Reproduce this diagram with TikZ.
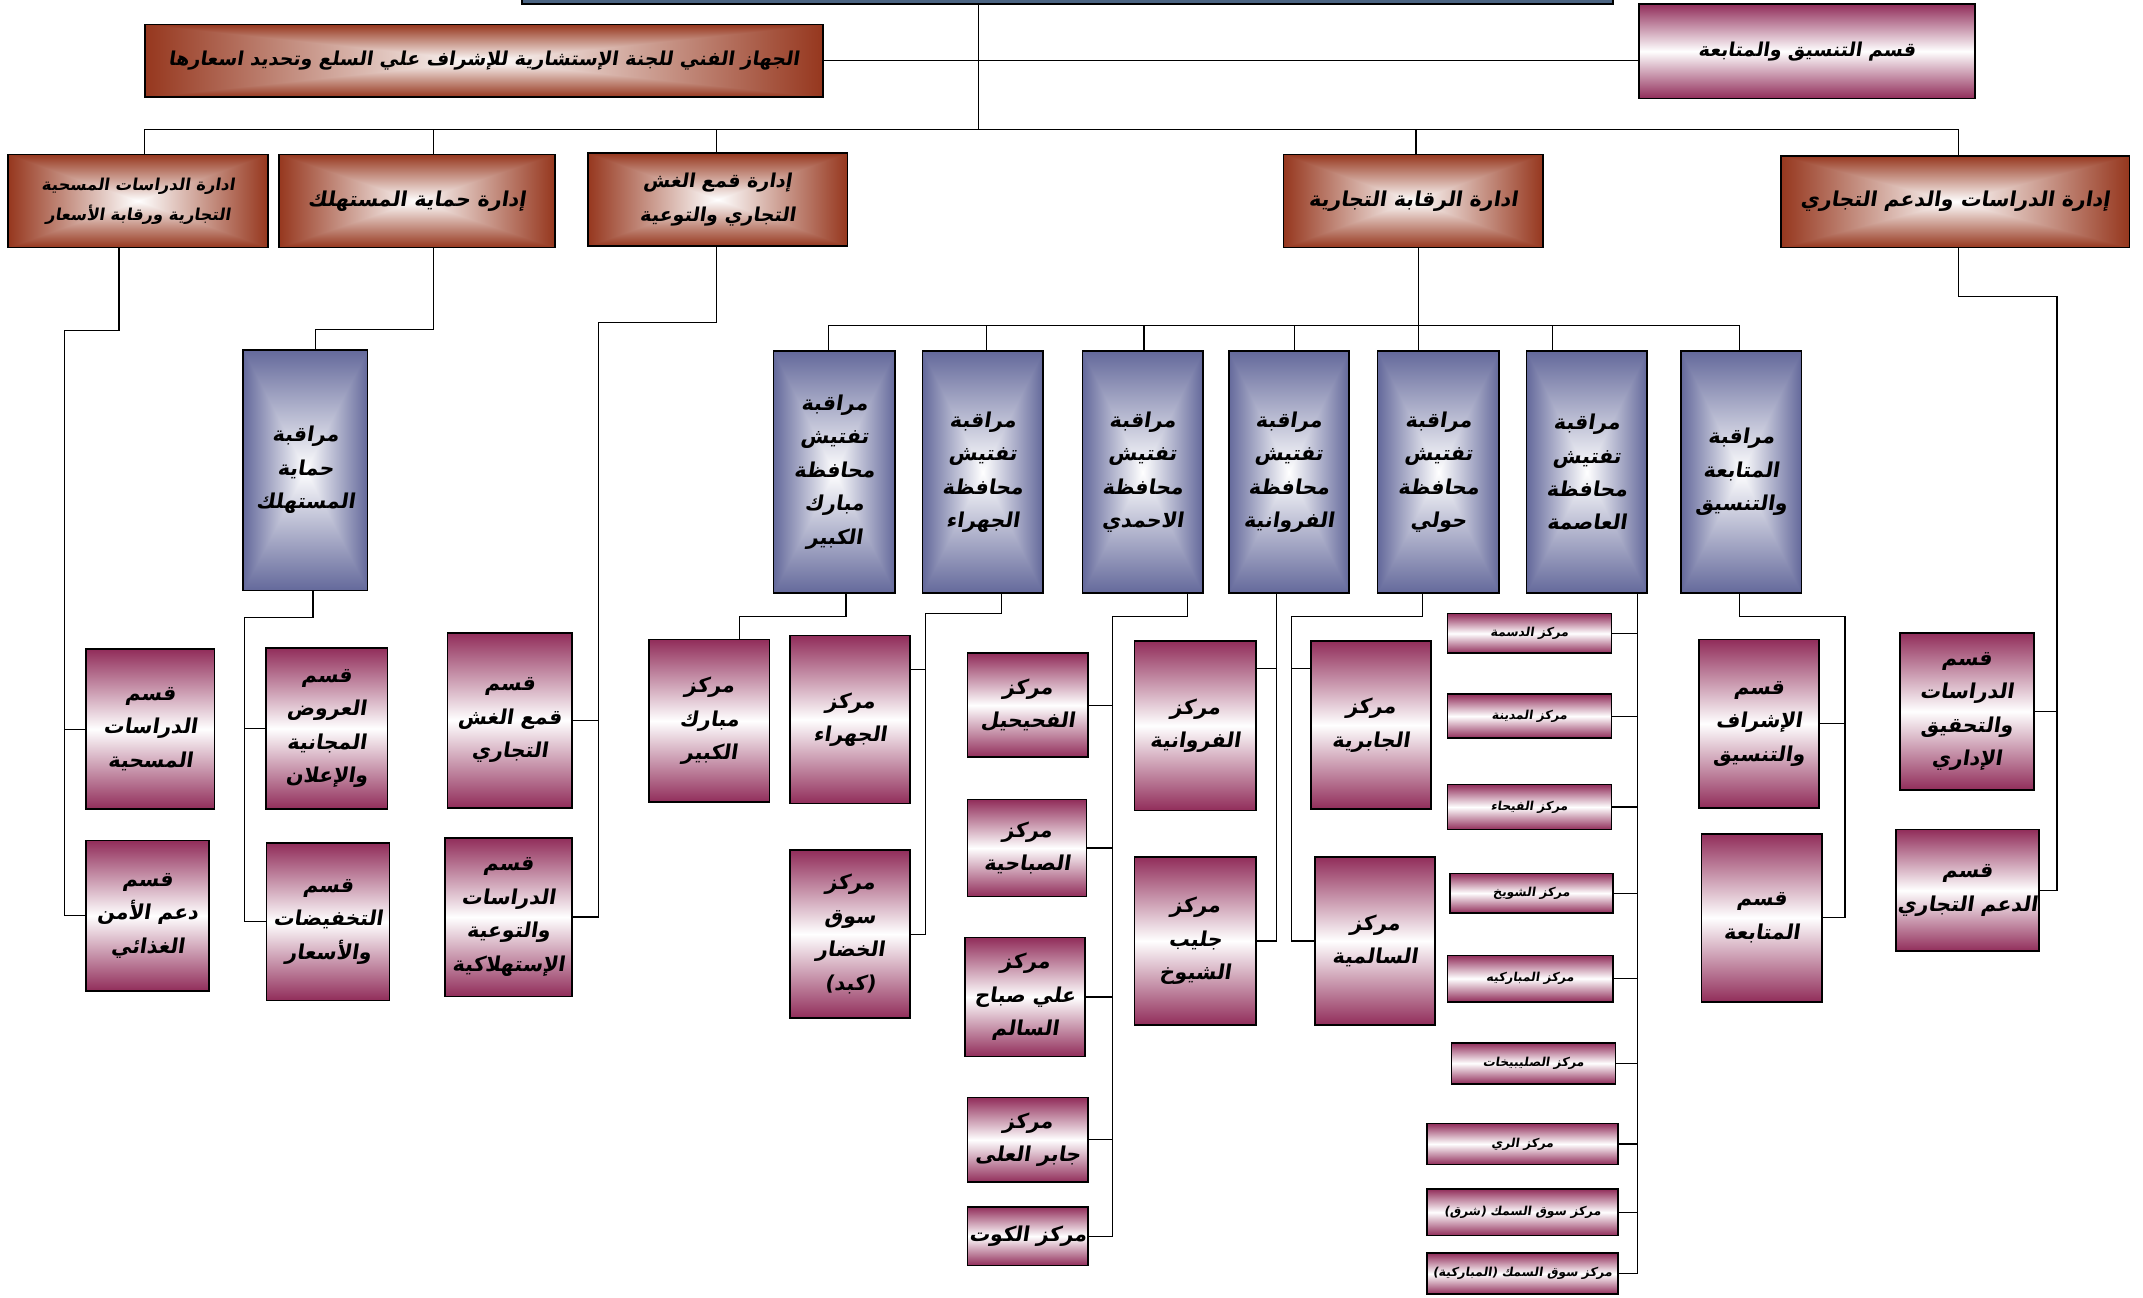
\documentclass[tikz,border=0pt]{standalone}
\usepackage{fontspec}
\newfontfamily\arabicfont[Script=Arabic,FakeSlant=0.15]{DejaVu Sans Bold}
\TeXXeTstate=1
\newcommand{\artxt}[1]{\beginR#1\endR}
\definecolor{plum}{RGB}{145,45,90}
\definecolor{steel}{RGB}{75,100,130}

\pgfdeclarefunctionalshading{rustshade}{\pgfpointorigin}{\pgfpoint{100bp}{100bp}}{}{
  50 sub abs 25 div exch 50 sub abs 25 div
  2 copy lt {exch} if pop
  dup 1 gt {pop 1} if
  dup 0.412 mul 1 exch sub
  exch dup 0.784 mul 1 exch sub
  exch 0.882 mul 1 exch sub
}
\pgfdeclarefunctionalshading{slateshade}{\pgfpointorigin}{\pgfpoint{100bp}{100bp}}{}{
  50 sub abs 25 div exch 50 sub abs 25 div
  2 copy lt {exch} if pop
  dup 1 gt {pop 1} if
  dup 0.608 mul 1 exch sub
  exch dup 0.588 mul 1 exch sub
  exch 0.392 mul 1 exch sub
}

\tikzset{
    link/.style={line width=0.9pt},
    boxsize/.style 2 args={minimum width=#1, minimum height=#2},
    rustbox/.style={draw, line width=1.2pt, shade, shading=rustshade, inner sep=1pt, align=center,
      font=\arabicfont\fontsize{15}{25}\selectfont},
    slatebox/.style={draw, line width=1.2pt, shade, shading=slateshade, inner sep=1pt, align=center,
      font=\arabicfont\fontsize{15}{24.5}\selectfont},
    plumbox/.style={draw, line width=1.2pt, top color=plum, bottom color=plum, middle color=white,
      inner sep=1pt, align=center, font=\arabicfont\fontsize{15}{24.5}\selectfont},
    centrebox/.style={plumbox, font=\arabicfont\fontsize{9}{11}\selectfont}
}

\begin{document}
\begin{tikzpicture}[x=1pt,y=-1pt]
  \useasboundingbox (0,0) rectangle (1568,949);

  % top level
  \node[draw, line width=1.2pt, fill=steel, boxsize={798}{23}] (top) at (781,-8.5) {};
  \node[rustbox, boxsize={496}{53}, font=\arabicfont\fontsize{14}{24}\selectfont] (tech) at (354,44.5)
    {\artxt{الجهاز الفني للجنة الإستشارية للإشراف علي السلع وتحديد اسعارها}};
  \node[plumbox, boxsize={246}{69}, font=\arabicfont\fontsize{14}{24}\selectfont] (coord) at (1322,37.5)
    {\artxt{قسم التنسيق والمتابعة}};

  % departments
  \node[rustbox, boxsize={190}{68}, font=\arabicfont\fontsize{12}{22}\selectfont] (survey) at (101,147)
    {\artxt{ادارة الدراسات المسحية}\\\artxt{التجارية ورقابة الأسعار}};
  \node[rustbox, boxsize={202}{68}] (protect) at (305,147) {\artxt{إدارة حماية المستهلك}};
  \node[rustbox, boxsize={190}{68}, font=\arabicfont\fontsize{14}{25}\selectfont] (fraud) at (525,146)
    {\artxt{إدارة قمع الغش}\\\artxt{التجاري والتوعية}};
  \node[rustbox, boxsize={190}{68}] (control) at (1034,147) {\artxt{ادارة الرقابة التجارية}};
  \node[rustbox, boxsize={255}{67}] (support) at (1430.5,147.5) {\artxt{إدارة الدراسات والدعم التجاري}};

  % controls
  \node[slatebox, boxsize={91}{176}] (cprotect) at (223.5,344)
    {\artxt{مراقبة}\\\artxt{حماية}\\\artxt{المستهلك}};
  \node[slatebox, boxsize={89}{177}] (mubarak) at (610.5,345.5)
    {\artxt{مراقبة}\\\artxt{تفتيش}\\\artxt{محافظة}\\\artxt{مبارك}\\\artxt{الكبير}};
  \node[slatebox, boxsize={88}{177}] (jahra) at (719,345.5)
    {\artxt{مراقبة}\\\artxt{تفتيش}\\\artxt{محافظة}\\\artxt{الجهراء}};
  \node[slatebox, boxsize={88}{177}] (ahmadi) at (836,345.5)
    {\artxt{مراقبة}\\\artxt{تفتيش}\\\artxt{محافظة}\\\artxt{الاحمدي}};
  \node[slatebox, boxsize={88}{177}] (farwaniya) at (943,345.5)
    {\artxt{مراقبة}\\\artxt{تفتيش}\\\artxt{محافظة}\\\artxt{الفروانية}};
  \node[slatebox, boxsize={89}{177}] (hawalli) at (1052.5,345.5)
    {\artxt{مراقبة}\\\artxt{تفتيش}\\\artxt{محافظة}\\\artxt{حولي}};
  \node[slatebox, boxsize={88}{177}] (capital) at (1161,345.5)
    {\artxt{مراقبة}\\\artxt{تفتيش}\\\artxt{محافظة}\\\artxt{العاصمة}};
  \node[slatebox, boxsize={88}{177}] (follow) at (1274,345.5)
    {\artxt{مراقبة}\\\artxt{المتابعة}\\\artxt{والتنسيق}};

  % sections
  \node[plumbox, boxsize={94}{117}] (ssurvey) at (110,533.5)
    {\artxt{قسم}\\\artxt{الدراسات}\\\artxt{المسحية}};
  \node[plumbox, boxsize={90}{110}] (sfood) at (108,670)
    {\artxt{قسم}\\\artxt{دعم الأمن}\\\artxt{الغذائي}};
  \node[plumbox, boxsize={89}{118}] (soffers) at (239,533)
    {\artxt{قسم}\\\artxt{العروض}\\\artxt{المجانية}\\\artxt{والإعلان}};
  \node[plumbox, boxsize={90}{115}] (sdiscount) at (240,674.5)
    {\artxt{قسم}\\\artxt{التخفيضات}\\\artxt{والأسعار}};
  \node[plumbox, boxsize={91}{128}] (sfraud) at (373,527)
    {\artxt{قسم}\\\artxt{قمع الغش}\\\artxt{التجاري}};
  \node[plumbox, boxsize={93}{116}] (saware) at (372,671)
    {\artxt{قسم}\\\artxt{الدراسات}\\\artxt{والتوعية}\\\artxt{الإستهلاكية}};

  % centres
  \node[plumbox, boxsize={88}{119}] (cmubarak) at (519,527.5)
    {\artxt{مركز}\\\artxt{مبارك}\\\artxt{الكبير}};
  \node[plumbox, boxsize={88}{123}] (cjahra) at (622,526.5)
    {\artxt{مركز}\\\artxt{الجهراء}};
  \node[plumbox, boxsize={88}{123}] (cveg) at (622,683.5)
    {\artxt{مركز}\\\artxt{سوق}\\\artxt{الخضار}\\\artxt{(كبد)}};
  \node[plumbox, boxsize={88}{76}] (cfahahil) at (752,516)
    {\artxt{مركز}\\\artxt{الفحيحيل}};
  \node[plumbox, boxsize={87}{71}] (csabahiya) at (751.5,620.5)
    {\artxt{مركز}\\\artxt{الصباحية}};
  \node[plumbox, boxsize={88}{87}] (csalem) at (750,729.5)
    {\artxt{مركز}\\\artxt{علي صباح}\\\artxt{السالم}};
  \node[plumbox, boxsize={88}{62}] (cjaber) at (752,834)
    {\artxt{مركز}\\\artxt{جابر العلى}};
  \node[plumbox, boxsize={88}{43}] (ckout) at (752,904.5) {\artxt{مركز الكوت}};
  \node[plumbox, boxsize={89}{124}] (cfarwaniya) at (874.5,531)
    {\artxt{مركز}\\\artxt{الفروانية}};
  \node[plumbox, boxsize={89}{123}] (cjleeb) at (874.5,688.5)
    {\artxt{مركز}\\\artxt{جليب}\\\artxt{الشيوخ}};
  \node[plumbox, boxsize={88}{123}] (cjabriya) at (1003,530.5)
    {\artxt{مركز}\\\artxt{الجابرية}};
  \node[plumbox, boxsize={88}{123}] (csalmiya) at (1006,688.5)
    {\artxt{مركز}\\\artxt{السالمية}};

  \node[centrebox, boxsize={120}{29}] (cdasma) at (1119,463.5) {\artxt{مركز الدسمة}};
  \node[centrebox, boxsize={120}{32}] (cmadina) at (1119,524) {\artxt{مركز المدينة}};
  \node[centrebox, boxsize={120}{33}] (cfayha) at (1119,590.5) {\artxt{مركز الفيحاء}};
  \node[centrebox, boxsize={119}{29}] (cshuwaikh) at (1120.5,653.5) {\artxt{مركز الشويخ}};
  \node[centrebox, boxsize={121}{34}] (cmubarakiya) at (1119.5,716) {\artxt{مركز المباركيه}};
  \node[centrebox, boxsize={120}{30}] (csulaibikhat) at (1122,778) {\artxt{مركز الصليبيخات}};
  \node[centrebox, boxsize={140}{30}] (crai) at (1114,837) {\artxt{مركز الري}};
  \node[centrebox, boxsize={140}{34}] (cfisheast) at (1114,887) {\artxt{مركز سوق السمك (شرق)}};
  \node[centrebox, boxsize={140}{30}] (cfishmub) at (1114,932) {\artxt{مركز سوق السمك (المباركية)}};

  \node[plumbox, boxsize={88}{123}] (ssupervise) at (1287,529.5)
    {\artxt{قسم}\\\artxt{الإشراف}\\\artxt{والتنسيق}};
  \node[plumbox, boxsize={88}{123}] (sfollow) at (1289,671.5)
    {\artxt{قسم}\\\artxt{المتابعة}};
  \node[plumbox, boxsize={98}{115}] (sinquiry) at (1439,520.5)
    {\artxt{قسم}\\\artxt{الدراسات}\\\artxt{والتحقيق}\\\artxt{الإداري}};
  \node[plumbox, boxsize={103}{89}] (strade) at (1439.5,651.5)
    {\artxt{قسم}\\\artxt{الدعم التجاري}};

  % connectors
  \draw[link] (top.south -| 716,0) -- (716,95);
  \draw[link] (tech.east) -- (coord.west |- tech.east);
  \draw[link] (survey.north -| 106,0) -- (106,95) -- (1433,95) -- (support.north -| 1433,0);
  \foreach \d/\x in {protect/317, fraud/524, control/1036}
    \draw[link] (\x,95) -- (\d.north -| \x,0);

  \draw[link] (survey.south -| 87,0) -- (87,242) -- (47,242) |- (sfood.west);
  \draw[link] (47,0 |- ssurvey.west) -- (ssurvey.west);

  \draw[link] (protect.south -| 317,0) -- (317,241) -| (cprotect.north -| 231,0);
  \draw[link] (cprotect.south -| 229,0) -- (229,452) -- (179,452) |- (sdiscount.west);
  \draw[link] (179,0 |- soffers.west) -- (soffers.west);

  \draw[link] (fraud.south -| 524,0) -- (524,236) -- (438,236) |- (saware.east);
  \draw[link] (438,0 |- sfraud.east) -- (sfraud.east);

  \draw[link] (control.south -| 1038,0) -- (1038,238);
  \draw[link] (606,238) -- (1273,238);
  \foreach \b/\x in {mubarak/606, jahra/722, ahmadi/837, farwaniya/947, hawalli/1038, capital/1136, follow/1273}
    \draw[link] (\x,238) -- (\b.north -| \x,0);

  \draw[link] (mubarak.south -| 619,0) -- (619,451) -| (cmubarak.north -| 541,0);

  \draw[link] (jahra.south -| 733,0) -- (733,449) -- (677,449) |- (cveg.east);
  \draw[link] (677,490) -- (cjahra.east |- 0,490);

  \draw[link] (ahmadi.south -| 869,0) -- (869,451) -- (814,451) |- (ckout.east);
  \foreach \c in {cfahahil, csabahiya, csalem, cjaber}
    \draw[link] (814,0 |- \c.east) -- (\c.east);

  \draw[link] (farwaniya.south -| 934,0) |- (cjleeb.east);
  \draw[link] (934,489) -- (cfarwaniya.east |- 0,489);

  \draw[link] (hawalli.south -| 1041,0) -- (1041,451) -- (945,451) |- (csalmiya.west);
  \draw[link] (945,489) -- (cjabriya.west |- 0,489);

  \draw[link] (capital.south -| 1198,0) |- (cfishmub.east);
  \foreach \c in {cdasma, cmadina, cfayha, cshuwaikh, cmubarakiya, csulaibikhat, crai, cfisheast}
    \draw[link] (1198,0 |- \c.east) -- (\c.east);

  \draw[link] (follow.south -| 1273,0) -- (1273,451) -- (1350,451) |- (sfollow.east);
  \draw[link] (1350,0 |- ssupervise.east) -- (ssupervise.east);

  \draw[link] (support.south -| 1433,0) -- (1433,217) -- (1505,217) |- (strade.east);
  \draw[link] (1505,0 |- sinquiry.east) -- (sinquiry.east);
\end{tikzpicture}
\end{document}
